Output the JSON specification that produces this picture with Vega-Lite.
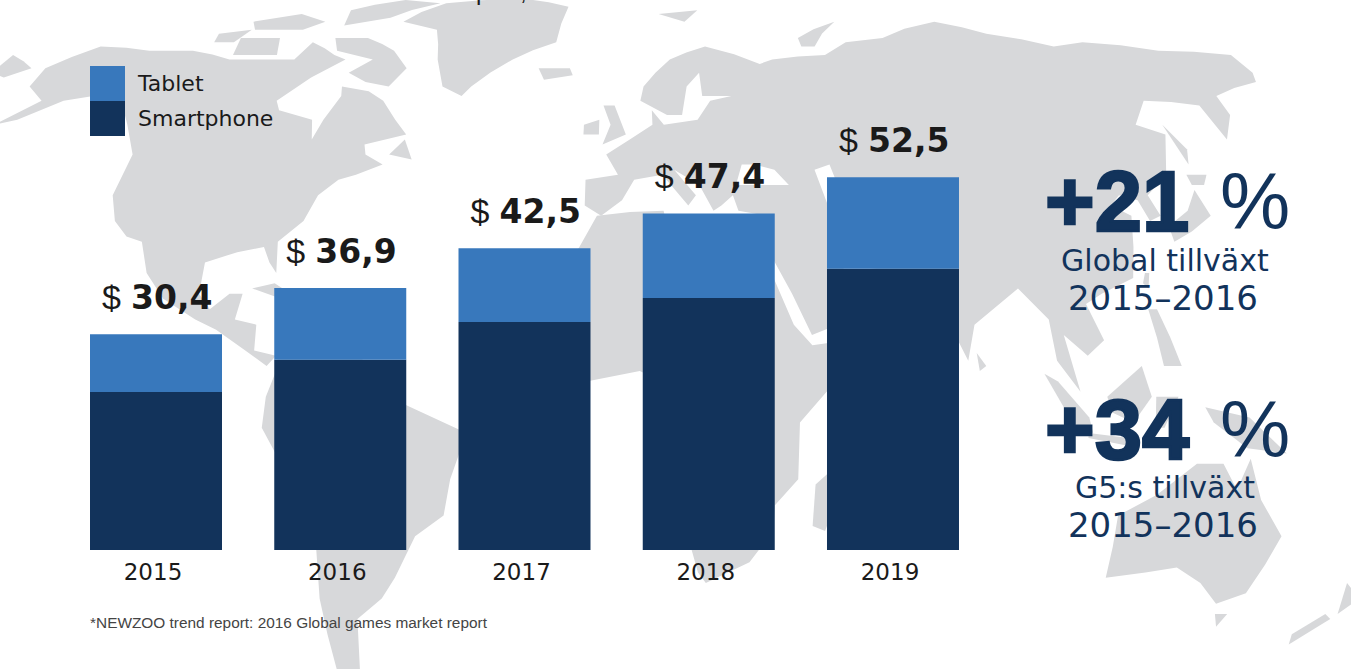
{"$schema":"https://vega.github.io/schema/vega-lite/v6.json","width":1351,"height":669,"padding":0,"autosize":{"type":"none"},"background":"white","view":{"stroke":null},
"config":{"text":{"font":"DejaVu Sans"},"legend":{"labelFont":"DejaVu Sans"}},
"layer":[
{"data":{"values":[
{"type":"Feature","properties":{"n":"North America"},"geometry":{"type":"Polygon","coordinates":[[[-166,66],[-157,71],[-141,70],[-128,70],[-115,68],[-108,68],[-96,68],[-94,72],[-85,69],[-81,68],[-88,64],[-94,59],[-92,57],[-82,55],[-80,51],[-79,55],[-77,60],[-78,62],[-70,61],[-65,59],[-60,55],[-56,52],[-66,50],[-65,48],[-60,46],[-66,44],[-70,43],[-74,40],[-76,35],[-81,31],[-80,25],[-82,27],[-84,30],[-90,29],[-97,27],[-97,21],[-94,18],[-90,21],[-87,21],[-88,16],[-83,15],[-83,10],[-78,9],[-80,7],[-85,10],[-92,14],[-97,16],[-105,20],[-110,25],[-113,31],[-117,32],[-121,35],[-124,40],[-124,48],[-130,54],[-135,58],[-145,60],[-152,59],[-160,55],[-165,54],[-158,59],[-165,62],[-166,66]]]}},
{"type":"Feature","properties":{"n":"Baffin"},"geometry":{"type":"Polygon","coordinates":[[[-88,73],[-78,73],[-68,70],[-62,66],[-65,62],[-72,63],[-78,65],[-73,68],[-85,70],[-88,73]]]}},
{"type":"Feature","properties":{"n":"Victoria"},"geometry":{"type":"Polygon","coordinates":[[[-117,73],[-105,73],[-102,69],[-115,69],[-117,73]]]}},
{"type":"Feature","properties":{"n":"Banks"},"geometry":{"type":"Polygon","coordinates":[[[-125,74],[-116,75],[-118,72],[-124,72],[-125,74]]]}},
{"type":"Feature","properties":{"n":"Ellesmere"},"geometry":{"type":"Polygon","coordinates":[[[-90,80],[-75,83],[-62,82],[-75,78],[-88,76],[-90,80]]]}},
{"type":"Feature","properties":{"n":"Queen Elizabeth"},"geometry":{"type":"Polygon","coordinates":[[[-118,77],[-105,79],[-95,77],[-100,75],[-115,75],[-118,77]]]}},
{"type":"Feature","properties":{"n":"Greenland"},"geometry":{"type":"Polygon","coordinates":[[[-60,82],[-35,83.5],[-18,81],[-20,72],[-32,68],[-42,62],[-44,60],[-50,62],[-54,68],[-58,75],[-70,77],[-60,82]]]}},
{"type":"Feature","properties":{"n":"Iceland"},"geometry":{"type":"Polygon","coordinates":[[[-24,66],[-15,66],[-14,64.5],[-22,63.5],[-24,66]]]}},
{"type":"Feature","properties":{"n":"Newfoundland"},"geometry":{"type":"Polygon","coordinates":[[[-59,48],[-56,51],[-53,47],[-59,48]]]}},
{"type":"Feature","properties":{"n":"Cuba"},"geometry":{"type":"Polygon","coordinates":[[[-85,22],[-80,23],[-74,20],[-78,20],[-85,22]]]}},
{"type":"Feature","properties":{"n":"Hispaniola"},"geometry":{"type":"Polygon","coordinates":[[[-74,20],[-69,19],[-69,18],[-74,18],[-74,20]]]}},
{"type":"Feature","properties":{"n":"South America"},"geometry":{"type":"Polygon","coordinates":[[[-78,8],[-72,12],[-62,10],[-52,5],[-50,0],[-35,-6],[-39,-15],[-41,-22],[-48,-26],[-54,-34],[-58,-38],[-65,-42],[-68,-52],[-69,-55],[-74,-52],[-73,-38],[-70,-18],[-76,-14],[-81,-5],[-80,1],[-77,8],[-78,8]]]}},
{"type":"Feature","properties":{"n":"Africa"},"geometry":{"type":"Polygon","coordinates":[[[-6,36],[10,37],[11,33],[20,32],[32,31],[35,24],[39,15],[43,11],[51,12],[47,3],[40,-4],[40,-15],[35,-20],[35,-25],[30,-31],[20,-35],[18,-33],[12,-17],[13,-7],[9,-1],[9,4],[4,6],[-8,4],[-13,9],[-17,15],[-16,22],[-10,30],[-6,36]]]}},
{"type":"Feature","properties":{"n":"Eurasia"},"geometry":{"type":"Polygon","coordinates":[[[-9,38],[-9,43],[-1,44],[-4,48],[2,51],[8,54],[8,57],[11,54],[20,55],[24,59],[30,60],[22,60],[22,65],[18,62],[16,56],[12,56],[5,59],[6,62],[14,68],[25,71],[40,67],[44,68],[60,69],[68,72],[80,73],[100,77],[113,74],[130,71],[140,72],[160,70],[180,69],[180,65],[178,63],[163,60],[162,56],[156,51],[156,58],[142,59],[135,54],[141,52],[135,44],[128,40],[129,36],[126,35],[125,39],[121,40],[118,38],[122,36],[120,30],[118,24],[110,21],[106,19],[109,12],[105,9],[100,13],[103,2],[98,8],[97,16],[91,22],[80,15],[78,8],[73,18],[70,21],[66,25],[57,26],[50,30],[52,24],[56,24],[59,22],[52,16],[43,13],[39,21],[35,28],[35,36],[28,37],[27,40],[24,38],[22,37],[19,42],[13,45],[18,40],[16,38],[10,44],[3,43],[0,39],[-5,36],[-9,38]],[[28,42],[35,42],[41,42],[38,45],[33,46],[30,46],[28,42]],[[50,37],[54,37],[53,42],[52,46],[48,45],[50,37]]]}},
{"type":"Feature","properties":{"n":"Chukotka"},"geometry":{"type":"Polygon","coordinates":[[[-180,69],[-170,66],[-175,64],[-180,65],[-180,69]]]}},
{"type":"Feature","properties":{"n":"Britain"},"geometry":{"type":"Polygon","coordinates":[[[-5,58],[-2,58],[1,52],[-5,50],[-3,54],[-5,58]]]}},
{"type":"Feature","properties":{"n":"Ireland"},"geometry":{"type":"Polygon","coordinates":[[[-10,54],[-6,55],[-6,52],[-10,52],[-10,54]]]}},
{"type":"Feature","properties":{"n":"Svalbard"},"geometry":{"type":"Polygon","coordinates":[[[12,79],[25,80],[20,77],[12,79]]]}},
{"type":"Feature","properties":{"n":"Novaya Zemlya"},"geometry":{"type":"Polygon","coordinates":[[[54,73],[68,77],[58,71],[54,71],[54,73]]]}},
{"type":"Feature","properties":{"n":"Honshu"},"geometry":{"type":"Polygon","coordinates":[[[130,34],[136,37],[140,41],[141,36],[135,33],[130,31],[130,34]]]}},
{"type":"Feature","properties":{"n":"Hokkaido"},"geometry":{"type":"Polygon","coordinates":[[[140,44],[145,44],[143,42],[140,42],[140,44]]]}},
{"type":"Feature","properties":{"n":"Sakhalin"},"geometry":{"type":"Polygon","coordinates":[[[142,54],[144,49],[142,46],[142,54]]]}},
{"type":"Feature","properties":{"n":"Madagascar"},"geometry":{"type":"Polygon","coordinates":[[[49,-12],[50,-16],[47,-25],[44,-24],[44,-16],[49,-12]]]}},
{"type":"Feature","properties":{"n":"Sri Lanka"},"geometry":{"type":"Polygon","coordinates":[[[80,9.5],[82,7],[80.5,6],[80,9.5]]]}},
{"type":"Feature","properties":{"n":"Sumatra"},"geometry":{"type":"Polygon","coordinates":[[[95,5.5],[98,4],[105,-3],[106,-6],[102,-5],[95,5.5]]]}},
{"type":"Feature","properties":{"n":"Borneo"},"geometry":{"type":"Polygon","coordinates":[[[109,1],[117,7],[119,1],[115,-4],[110,-2],[109,1]]]}},
{"type":"Feature","properties":{"n":"Java"},"geometry":{"type":"Polygon","coordinates":[[[105,-6],[114,-7],[114,-8.5],[105,-7],[105,-6]]]}},
{"type":"Feature","properties":{"n":"Sulawesi"},"geometry":{"type":"Polygon","coordinates":[[[120,1],[125,1],[122,-5],[120,-5],[120,1]]]}},
{"type":"Feature","properties":{"n":"New Guinea"},"geometry":{"type":"Polygon","coordinates":[[[131,-1],[141,-3],[150,-10],[141,-9],[133,-4],[131,-1]]]}},
{"type":"Feature","properties":{"n":"Philippines"},"geometry":{"type":"Polygon","coordinates":[[[120,18],[122,18],[126,7],[122,7],[120,18]]]}},
{"type":"Feature","properties":{"n":"Taiwan"},"geometry":{"type":"Polygon","coordinates":[[[121,25],[122,25],[121,22],[120,23],[121,25]]]}},
{"type":"Feature","properties":{"n":"Australia"},"geometry":{"type":"Polygon","coordinates":[[[114,-22],[122,-18],[130,-12],[136,-12],[140,-17],[142,-11],[146,-19],[153,-26],[150,-37],[144,-39],[138,-35],[131,-32],[124,-33],[115,-34],[114,-22]]]}},
{"type":"Feature","properties":{"n":"Tasmania"},"geometry":{"type":"Polygon","coordinates":[[[145,-41],[148,-41],[147,-43.5],[145,-41]]]}},
{"type":"Feature","properties":{"n":"NZ North"},"geometry":{"type":"Polygon","coordinates":[[[173,-35],[178,-38],[175,-41],[173,-35]]]}},
{"type":"Feature","properties":{"n":"NZ South"},"geometry":{"type":"Polygon","coordinates":[[[172,-41],[174,-42],[168,-47],[167,-45],[172,-41]]]}}
]},"mark":{"type":"geoshape","fill":"#d7d8da","stroke":null},"projection":{"type":"naturalEarth1","scale":293,"translate":[622,402]},"encoding":{}},
{"data":{"values":[
{"year":2015,"segment":"Smartphone","revenue":22.25},{"year":2015,"segment":"Tablet","revenue":8.15},
{"year":2016,"segment":"Smartphone","revenue":26.8},{"year":2016,"segment":"Tablet","revenue":10.1},
{"year":2017,"segment":"Smartphone","revenue":32.1},{"year":2017,"segment":"Tablet","revenue":10.4},
{"year":2018,"segment":"Smartphone","revenue":35.5},{"year":2018,"segment":"Tablet","revenue":11.9},
{"year":2019,"segment":"Smartphone","revenue":39.6},{"year":2019,"segment":"Tablet","revenue":12.9}
]},"mark":{"type":"bar","width":132,"orient":"vertical"},"encoding":{
"x":{"field":"year","type":"quantitative","scale":{"domain":[2014.1533,2021.4858],"nice":false,"zero":false,"padding":0},"axis":null},
"y":{"field":"revenue","type":"quantitative","stack":"zero","scale":{"domain":[-16.76,77.46],"zero":false,"nice":false},"axis":null},
"order":{"field":"segment","sort":"ascending"},
"color":{"field":"segment","type":"nominal","scale":{"domain":["Tablet","Smartphone"],"range":["#3878bc","#12335b"]},"legend":{"title":null,"orient":"none","legendX":90,"legendY":66,"symbolType":"square","symbolSize":1225,"symbolStrokeWidth":0,"symbolOpacity":1,"labelFontSize":22,"labelColor":"#1a1a1a","labelOffset":13,"rowPadding":0,"padding":0}}}},
{"data":{"name":"totals","values":[{"year":2015,"total":30.4,"label":"30,4"},{"year":2016,"total":36.9,"label":"36,9"},{"year":2017,"total":42.5,"label":"42,5"},{"year":2018,"total":47.4,"label":"47,4"},{"year":2019,"total":52.5,"label":"52,5"}]},"mark":{"type":"text","align":"left","baseline":"middle","dx":-25,"dy":-35,"fontSize":33,"fontWeight":"bold","color":"#1a1a1a"},"encoding":{"x":{"field":"year","type":"quantitative"},"y":{"field":"total","type":"quantitative"},"text":{"field":"label"}}},
{"data":{"name":"totals"},"mark":{"type":"text","align":"right","baseline":"middle","dx":-35,"dy":-35,"fontSize":34,"font":"Liberation Sans","color":"#1a1a1a","text":"$"},"encoding":{"x":{"field":"year","type":"quantitative"},"y":{"field":"total","type":"quantitative"}}},
{"data":{"name":"totals"},"mark":{"type":"text","align":"center","baseline":"middle","dx":-3,"fontSize":23,"color":"#1a1a1a"},"encoding":{"x":{"field":"year","type":"quantitative"},"y":{"datum":-3.2},"text":{"field":"year","type":"quantitative","format":"d"}}},
{"data":{"values":[{"t":"p"}]},"mark":{"type":"text","align":"left","baseline":"alphabetic","font":"Liberation Sans","fontSize":24,"color":"#1a1a1a"},"encoding":{"x":{"datum":2016.737},"y":{"datum":77.46},"text":{"field":"t"}}},
{"data":{"values":[{"t":","}]},"mark":{"type":"text","align":"left","baseline":"alphabetic","font":"Liberation Sans","fontSize":24,"color":"#1a1a1a"},"encoding":{"x":{"datum":2016.975},"y":{"datum":77.46},"text":{"field":"t"}}},
{"data":{"values":[{"t":"+21"}]},"mark":{"type":"text","align":"left","baseline":"middle","font":"Liberation Sans","fontWeight":"bold","fontSize":85,"color":"#12335b","stroke":"#12335b","strokeWidth":2.5},"encoding":{"x":{"datum":2019.825},"y":{"datum":48.6},"text":{"field":"t"}}},
{"data":{"values":[{"t":"%"}]},"mark":{"type":"text","align":"left","baseline":"middle","font":"Liberation Sans","fontSize":79,"color":"#12335b"},"encoding":{"x":{"datum":2020.775},"y":{"datum":48.6},"text":{"field":"t"}}},
{"data":{"values":[{"t":"Global tillväxt"}]},"mark":{"type":"text","align":"center","baseline":"middle","fontSize":30,"color":"#12335b"},"encoding":{"x":{"datum":2020.476},"y":{"datum":40.55},"text":{"field":"t"}}},
{"data":{"values":[{"t":"2015–2016"}]},"mark":{"type":"text","align":"center","baseline":"middle","fontSize":34,"color":"#12335b"},"encoding":{"x":{"datum":2020.465},"y":{"datum":35.19},"text":{"field":"t"}}},
{"data":{"values":[{"t":"+34"}]},"mark":{"type":"text","align":"left","baseline":"middle","font":"Liberation Sans","fontWeight":"bold","fontSize":85,"color":"#12335b","stroke":"#12335b","strokeWidth":2.5},"encoding":{"x":{"datum":2019.825},"y":{"datum":16.5},"text":{"field":"t"}}},
{"data":{"values":[{"t":"%"}]},"mark":{"type":"text","align":"left","baseline":"middle","font":"Liberation Sans","fontSize":79,"color":"#12335b"},"encoding":{"x":{"datum":2020.775},"y":{"datum":16.5},"text":{"field":"t"}}},
{"data":{"values":[{"t":"G5:s tillväxt"}]},"mark":{"type":"text","align":"center","baseline":"middle","fontSize":30,"color":"#12335b"},"encoding":{"x":{"datum":2020.476},"y":{"datum":8.57},"text":{"field":"t"}}},
{"data":{"values":[{"t":"2015–2016"}]},"mark":{"type":"text","align":"center","baseline":"middle","fontSize":34,"color":"#12335b"},"encoding":{"x":{"datum":2020.465},"y":{"datum":3.22},"text":{"field":"t"}}},
{"data":{"values":[{"t":"*NEWZOO trend report: 2016 Global games market report"}]},"mark":{"type":"text","align":"left","baseline":"middle","font":"Liberation Sans","fontSize":15.4,"color":"#444444"},"encoding":{"x":{"datum":2014.642},"y":{"datum":-10.28},"text":{"field":"t"}}}
]}
